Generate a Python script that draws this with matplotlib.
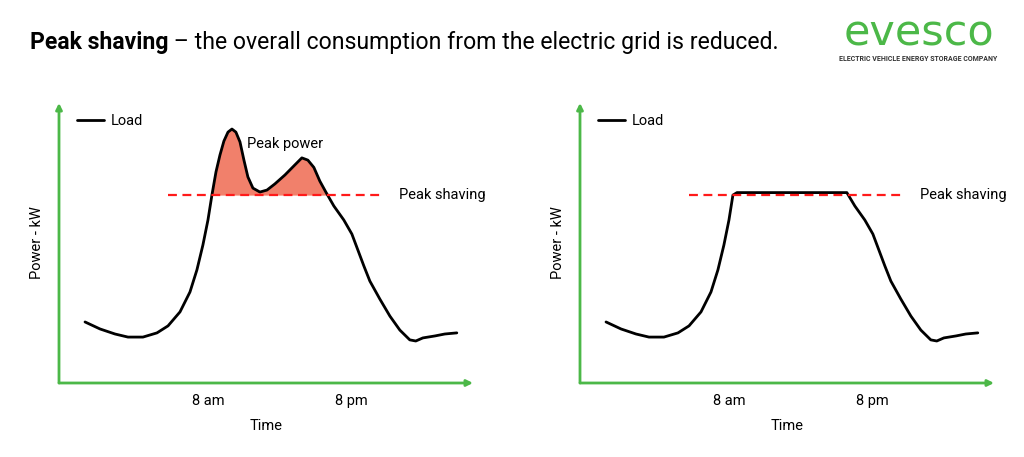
import matplotlib
matplotlib.use("Agg")
import matplotlib.pyplot as plt
import numpy as np

plt.rcParams['font.family'] = ['Roboto', 'DejaVu Sans']

## Load profile (hour of day, kW on 0-100 scale)
hours = [-2.25, -1.0, 0.25, 1.33, 2.58, 3.75, 4.67, 5.67, 6.5, 7.08, 7.58, 8.0,
         8.33, 8.67, 9.0, 9.33, 9.67, 10.0, 10.33, 10.67, 11.0, 11.33, 11.75,
         12.33, 12.92, 13.58, 14.42, 15.25, 15.83, 16.33, 16.83, 17.33, 17.83,
         18.5, 19.33, 20.0, 20.5, 21.0, 21.5, 22.33, 23.17, 24.0, 24.83, 25.33,
         25.92, 26.92, 27.75, 28.75]
load = [21.8, 19.3, 17.5, 16.4, 16.4, 17.9, 20.4, 25.4, 32.5, 40.4, 49.3, 58.2,
        67.1, 75.4, 81.4, 86.4, 89.6, 90.7, 89.6, 86.1, 79.6, 73.6, 69.6,
        68.2, 68.9, 71.1, 74.3, 77.9, 80.4, 79.6, 77.0, 72.1, 68.2,
        63.2, 58.2, 53.2, 47.5, 41.8, 36.4, 30.0, 23.9, 18.9, 15.4, 15.0,
        16.1, 16.8, 17.5, 17.9]

shave_level = 67.1      # dashed peak shaving line
shaved_cap = 68.0       # flat top of the shaved curve
shave_span = [4.67, 22.33]

tick_pos = [8, 20]
tick_labels = ["8 am", "8 pm"]

green = "#4cb848"
fill_red = "#f1806b"
dash_red = "#ff1a1a"

W, H = 1024, 457
fig = plt.figure(figsize=(W / 100, H / 100), dpi=100)


def make_panel(x0, shaved):
    ax = fig.add_axes([x0 / W, (H - 383) / H, 414 / W, 280 / H])
    ax.set_xlim(-4.42, 30.1)
    ax.set_ylim(0, 100)
    for s in ax.spines.values():
        s.set_visible(False)
    ax.annotate("", xy=(1, 0), xytext=(0, 0), xycoords="axes fraction",
                arrowprops=dict(arrowstyle="-|>", color=green, lw=2,
                                mutation_scale=9, shrinkA=0, shrinkB=0))
    ax.annotate("", xy=(0, 1), xytext=(0, 0), xycoords="axes fraction",
                arrowprops=dict(arrowstyle="-|>", color=green, lw=2,
                                mutation_scale=9, shrinkA=0, shrinkB=0))

    x = np.array(hours)
    y = np.array(load)
    if shaved:
        y = np.minimum(y, shaved_cap)
    else:
        ax.fill_between(x, y, shave_level, where=y > shave_level,
                        interpolate=True, color=fill_red, lw=0)
        ax.text(11.25, 85.4, "Peak power", fontsize=10.5, va="center")
    ax.plot(x, y, color="black", lw=2, label="Load", solid_capstyle="round",
            solid_joinstyle="round")
    ax.plot(shave_span, [shave_level, shave_level], color=dash_red, lw=1.6,
            dashes=(4, 2.5))
    ax.text(23.9, shave_level, "Peak shaving", fontsize=10.5, va="center")

    ax.set_xticks(tick_pos)
    ax.set_xticklabels(tick_labels, fontsize=10.5)
    ax.set_yticks([])
    ax.tick_params(axis="x", length=0, pad=8)
    ax.set_xlabel("Time", fontsize=10.5, labelpad=8)
    ax.set_ylabel("Power - kW", fontsize=10.5, labelpad=11)
    ax.legend(loc="upper left", bbox_to_anchor=(0.019, 0.998), frameon=False,
              fontsize=10.5, handlelength=1.85, handletextpad=0.45,
              borderaxespad=0.3)
    return ax


make_panel(59, shaved=False)
make_panel(580, shaved=True)

## Title
t1 = fig.text(30 / W, 1 - 43 / H, "Peak shaving", fontsize=16.6,
              fontweight="bold", va="center")
fig.canvas.draw()
bb = t1.get_window_extent()
fig.text(bb.x1 / W, 1 - 43 / H, " \u2013 the overall consumption from the electric grid is reduced.",
         fontsize=16.6, va="center")

## Logo
fig.text(919 / W, 1 - 45 / H, "evesco", fontsize=31, color=green,
         ha="center", va="baseline", family=["DejaVu Sans"])
fig.text(918 / W, 1 - 59 / H, "ELECTRIC VEHICLE ENERGY STORAGE COMPANY",
         fontsize=5.0, fontweight="bold", color="#333333", ha="center",
         va="center")

fig.savefig("out.png", dpi=100)
